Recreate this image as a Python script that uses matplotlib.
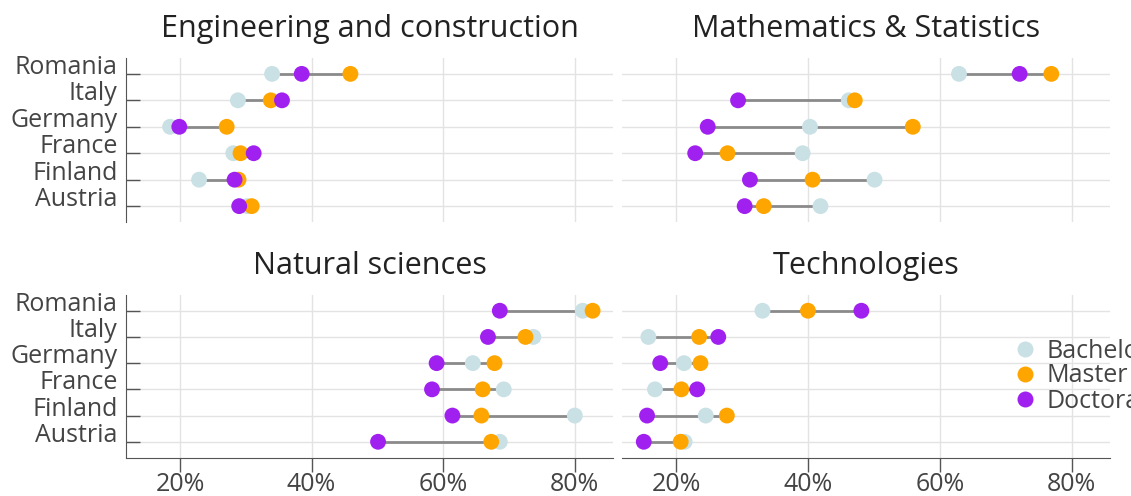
import numpy as np
import matplotlib
matplotlib.use("Agg")
import matplotlib.pyplot as plt
import matplotlib.transforms as mtransforms
from matplotlib.lines import Line2D

plt.rcParams["font.family"] = ["Open Sans", "DejaVu Sans"]

# ------- data: share of women by field, country and degree level (%) -------
countries = ["Austria", "Finland", "France", "Germany", "Italy", "Romania"]
levels = ["Bachelor", "Master", "Doctoral"]
fields = ["Engineering and construction", "Mathematics & Statistics",
          "Natural sciences", "Technologies"]

eng_bachelor = [30.2, 22.9, 28.1, 18.5, 28.8, 34.0]
eng_master = [30.9, 28.9, 29.2, 27.1, 33.8, 45.9]
eng_doctoral = [29.0, 28.3, 31.2, 19.9, 35.5, 38.5]

math_bachelor = [41.9, 50.1, 39.2, 40.3, 46.2, 62.9]
math_master = [33.3, 40.7, 27.8, 55.9, 47.1, 76.9]
math_doctoral = [30.4, 31.2, 22.9, 24.8, 29.4, 72.1]

nat_bachelor = [68.6, 80.0, 69.2, 64.5, 73.7, 81.2]
nat_master = [67.3, 65.8, 66.0, 67.8, 72.5, 82.7]
nat_doctoral = [50.1, 61.4, 58.3, 59.0, 66.8, 68.6]

tech_bachelor = [21.3, 24.5, 16.8, 21.2, 15.8, 33.1]
tech_master = [20.7, 27.7, 20.8, 23.7, 23.5, 40.0]
tech_doctoral = [15.1, 15.6, 23.2, 17.6, 26.4, 48.1]

panel_data = [
    (eng_bachelor, eng_master, eng_doctoral),
    (math_bachelor, math_master, math_doctoral),
    (nat_bachelor, nat_master, nat_doctoral),
    (tech_bachelor, tech_master, tech_doctoral),
]

x_ticks = [20, 40, 60, 80]
level_colors = ["#c9e0e5", "#ffa500", "#a020f0"]
text_color = "#444444"

W, H = 1131, 496
fig = plt.figure(figsize=(W / 100, H / 100), dpi=100)

# panel boxes in pixels: (left, top, right, bottom)
boxes = [(126, 58, 613, 222), (622, 58, 1110, 222),
         (126, 295, 613, 457.5), (622, 295, 1110, 457.5)]

y = np.arange(len(countries))
for i, (box, field, vals) in enumerate(zip(boxes, fields, panel_data)):
    l, t, r, b = box
    ax = fig.add_axes([l / W, 1 - b / H, (r - l) / W, (b - t) / H])
    ax.set_xlim(11.8, 85.8)
    ax.set_ylim(-0.6, 5.6)

    arr = np.array(vals)
    lo, hi = arr.min(axis=0), arr.max(axis=0)
    ax.hlines(y, lo, hi, color="#8a8a8a", lw=2, zorder=2)
    for k, (v, c) in enumerate(zip(vals, level_colors)):
        ax.scatter(v, y, s=130, color=c, edgecolors="none", zorder=3 + k)

    ax.set_xticks(x_ticks)
    ax.set_yticks(y)
    ax.grid(True, color="#e3e3e3", lw=1, zorder=0)
    ax.set_axisbelow(True)
    for s in ax.spines.values():
        s.set_visible(False)

    left_col = i % 2 == 0
    bottom_row = i >= 2
    ax.tick_params(axis="y", direction="in", length=10, width=1, color="#555555",
                   left=left_col, labelleft=left_col, labelsize=18,
                   labelcolor=text_color, pad=6)
    ax.tick_params(axis="x", direction="out", length=10, width=1, color="#555555",
                   bottom=bottom_row, labelbottom=bottom_row, labelsize=18,
                   labelcolor=text_color, pad=0.5)
    if bottom_row:
        ax.set_xticklabels([f"{v}%" for v in x_ticks])
        ax.spines["bottom"].set_visible(True)
        ax.spines["bottom"].set_color("#555555")
    if left_col:
        ax.set_yticklabels(countries)
        ax.spines["left"].set_visible(True)
        ax.spines["left"].set_color("#555555")
        # country names sit on the row line rather than centred on it
        shift = mtransforms.ScaledTranslation(0, 0.0, fig.dpi_scale_trans)
        for lab in ax.get_yticklabels():
            lab.set_verticalalignment("baseline")
            lab.set_transform(lab.get_transform() + shift)

    ax.set_title(field, fontsize=22, color="#222222", pad=15)

handles = [Line2D([], [], ls="none", marker="o", markersize=11.5,
                  markerfacecolor=c, markeredgecolor="none") for c in level_colors]
fig.legend(handles, levels, loc="center left", bbox_to_anchor=(1010 / W, 1 - 376 / H),
           frameon=False, fontsize=18, labelcolor=text_color,
           handletextpad=0.25, labelspacing=0.0, handlelength=1.2,
           borderaxespad=0, borderpad=0)

fig.savefig("out.png", dpi=100)
